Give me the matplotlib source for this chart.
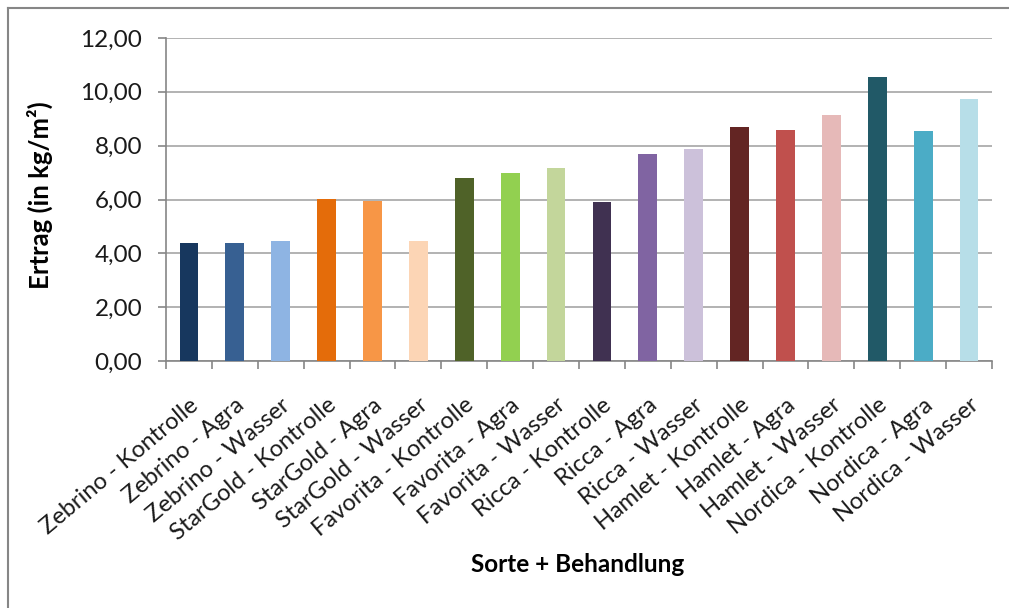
import matplotlib
matplotlib.use("Agg")
import matplotlib.pyplot as plt
from matplotlib.lines import Line2D

categories = [
    "Zebrino - Kontrolle", "Zebrino - Agra", "Zebrino - Wasser",
    "StarGold - Kontrolle", "StarGold - Agra", "StarGold - Wasser",
    "Favorita - Kontrolle", "Favorita - Agra", "Favorita - Wasser",
    "Ricca - Kontrolle", "Ricca - Agra", "Ricca - Wasser",
    "Hamlet - Kontrolle", "Hamlet - Agra", "Hamlet - Wasser",
    "Nordica - Kontrolle", "Nordica - Agra", "Nordica - Wasser",
]
values = [4.39, 4.39, 4.45, 6.02, 5.96, 4.45, 6.79, 6.98, 7.17,
          5.91, 7.69, 7.88, 8.68, 8.59, 9.15, 10.56, 8.53, 9.72]
colors = ["#17375E", "#376092", "#8EB4E3", "#E46C0A", "#F79646", "#FCD5B5",
          "#4F6228", "#92D050", "#C3D69B", "#403151", "#8064A2", "#CCC1DA",
          "#632523", "#C0504D", "#E6B9B8", "#215967", "#4BACC6", "#B7DEE8"]
yticks = [0, 2, 4, 6, 8, 10, 12]
ytick_labels = ["0,00", "2,00", "4,00", "6,00", "8,00", "10,00", "12,00"]

plt.rcParams['font.family'] = ['Lato', 'DejaVu Sans']

W, H = 1009, 608
fig = plt.figure(figsize=(W / 100, H / 100), dpi=100)
ax = fig.add_axes([166 / W, 1 - 361 / H, (992 - 166) / W, (361 - 38) / H])

x = list(range(len(categories)))
ax.bar(x, values, width=0.41, color=colors, zorder=3)

ax.set_xlim(-0.5, len(categories) - 0.5)
ax.set_ylim(0, 12)
ax.set_yticks(yticks)
ax.set_yticklabels(ytick_labels, fontsize=17.5, color="#1a1a1a")
ax.yaxis.grid(True, color="#A6A6A6", linewidth=1.2, zorder=0)

ax.set_xticks(x)
ax.set_xticklabels(categories, rotation=40, ha="right", rotation_mode="anchor",
                   fontsize=17, color="#1a1a1a")
ax.set_xticks([i - 0.5 for i in range(len(categories) + 1)], minor=True)
ax.tick_params(axis="x", which="major", length=0, pad=24)
ax.tick_params(axis="x", which="minor", length=6, color="#868686", width=1.2)
ax.tick_params(axis="y", length=6, color="#868686", width=1.2, pad=11)

for s in ["top", "right"]:
    ax.spines[s].set_visible(False)
for s in ["left", "bottom"]:
    ax.spines[s].set_color("#868686")
    ax.spines[s].set_linewidth(1.2)

fig.text(40 / W, 1 - 195 / H, "Ertrag (in kg/m²)", fontsize=18.5, fontweight="bold",
         rotation=90, ha="center", va="center")
fig.text(578 / W, 1 - 565 / H, "Sorte + Behandlung", fontsize=17.5,
         fontweight="bold", ha="center", va="center")

# outer chart frame
fig.add_artist(Line2D([8 / W, 1.0], [1 - 8 / H, 1 - 8 / H], transform=fig.transFigure,
                      color="#868686", linewidth=1.5))
fig.add_artist(Line2D([8 / W, 8 / W], [1 - 8 / H, 0.0], transform=fig.transFigure,
                      color="#868686", linewidth=1.5))

fig.savefig("out.png", dpi=100)
